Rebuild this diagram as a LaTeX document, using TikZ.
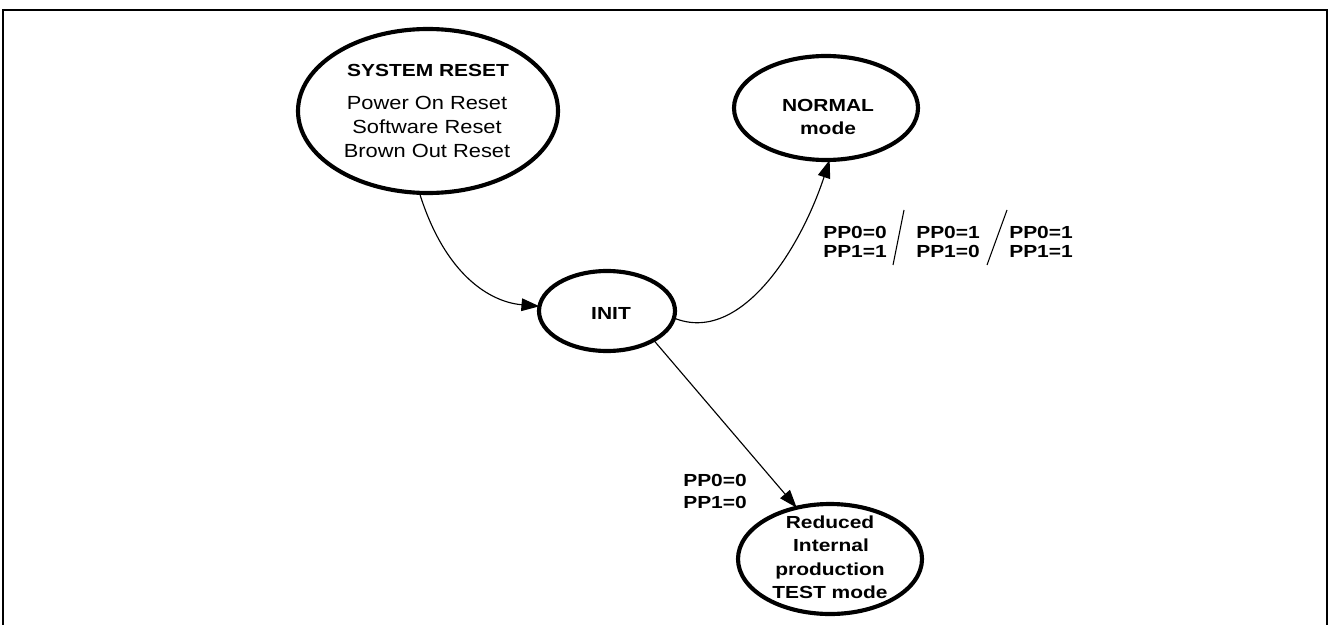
\documentclass[tikz,border=0pt]{standalone}
\usepackage{fontspec}
\setmainfont{Liberation Sans}
\newfontfamily\regf[FakeStretch=1.15]{Liberation Sans}
\newfontfamily\boldf[FakeStretch=1.2]{Liberation Sans}
\usetikzlibrary{shapes.geometric,arrows.meta}
\begin{document}
\begin{tikzpicture}[x=0.75pt,y=-0.75pt,
  state/.style={ellipse,draw,line width=3.1pt,inner sep=0pt,outer sep=0pt},
  btxt/.style={font=\boldf\bfseries\fontsize{13.1}{15}\selectfont,inner sep=0pt,anchor=base},
  rtxt/.style={font=\regf\fontsize{14.25}{17}\selectfont,inner sep=0pt,anchor=base},
  lbl/.style={btxt,anchor=base west},
  conn/.style={line width=0.85pt,-{Triangle[length=13.5pt,width=9.5pt]}},
  slash/.style={line width=0.8pt},
  frame/.style={line width=1.5pt}]
\useasboundingbox (0,0) rectangle (1333,624);
% frame (open at the bottom)
\coordinate (fbl) at (3,630);
\coordinate (ftl) at (3,10);
\coordinate (ftr) at (1327,10);
\coordinate (fbr) at (1327,630);
\draw[frame] (fbl) -- (ftl) -- (ftr) -- (fbr);
% states (sizes in pt = px * 0.75)
\node[state,minimum width=195pt,minimum height=123pt] (sr) at (428,111) {};
\node[state,minimum width=138pt,minimum height=78pt] (normal) at (826,108) {};
\node[state,minimum width=102pt,minimum height=60pt] (init) at (607,311) {};
\node[state,minimum width=138pt,minimum height=82.5pt] (red) at (830,559) {};
% texts
\node[btxt] (srt) at (428,77) {SYSTEM RESET};
\node[rtxt] (sr1) at (427,110) {Power On Reset};
\node[rtxt] (sr2) at (427,133.5) {Software Reset};
\node[rtxt] (sr3) at (427,157) {Brown Out Reset};
\node[btxt] (nt1) at (828,112) {NORMAL};
\node[btxt] (nt2) at (828,135) {mode};
\node[btxt] (it) at (611,319) {INIT};
\node[btxt] (rt1) at (830,528) {Reduced};
\node[btxt] (rt2) at (831,551.5) {Internal};
\node[btxt] (rt3) at (830,575) {production};
\node[btxt] (rt4) at (830,598) {TEST mode};
% connectors
\draw[conn] (sr.264) .. controls (445,275) and (490,302) .. (init.176);
\draw[conn] (init.-6) .. controls (740,345) and (800,250) .. (normal.274);
\draw[conn] (init.-32) -- (red.123);
% labels
\node[lbl] (a0) at (823,238) {PP0=0};
\node[lbl] (a1) at (823,257) {PP1=1};
\node[lbl] (b0) at (916,238) {PP0=1};
\node[lbl] (b1) at (916,257) {PP1=0};
\node[lbl] (c0) at (1009,238) {PP0=1};
\node[lbl] (c1) at (1009,257) {PP1=1};
\coordinate (s1t) at (904,210);
\coordinate (s1b) at (893,265);
\coordinate (s2t) at (1007,210);
\coordinate (s2b) at (987,265);
\draw[slash] (s1t) -- (s1b);
\draw[slash] (s2t) -- (s2b);
\node[lbl] (d0) at (683,486) {PP0=0};
\node[lbl] (d1) at (683,508) {PP1=0};
\end{tikzpicture}
\end{document}
